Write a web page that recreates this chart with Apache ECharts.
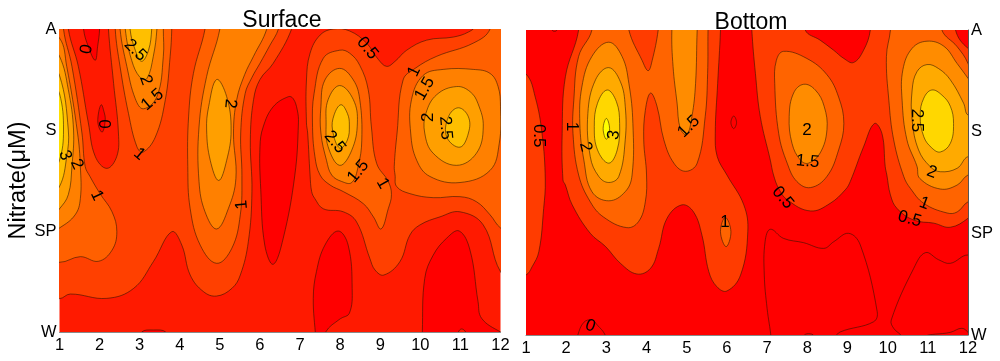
<!DOCTYPE html>
<html>
<head>
<meta charset="utf-8">
<style>
  html, body { margin: 0; padding: 0; background: #fff; }
  #main { width: 1000px; height: 361px; }
</style>
<script src="https://cdn.jsdelivr.net/npm/echarts@6/dist/echarts.min.js"></script>
</head>
<body>
<div id="main"></div>
<script>
const monthTicks = [1, 2, 3, 4, 5, 6, 7, 8, 9, 10, 11, 12];
const seasonTicks = ['W', 'SP', 'S', 'A'];

// each contour: [value of the band inside it, [[month, season position], ...]]
// season position runs W=0, SP=1, S=2, A=3; points past the axes get clipped
const surfaceContours = [
  [0.5, [[0.6,0.36],[1,0.33],[1.27,0.376],[2.18,0.333],[2.85,0.432],[3.34,0.696],[3.8,0.993],[4.05,0.861],[4.26,0.564],[4.59,0.4],[4.92,0.356],[5.3,0.432],[5.51,0.564],[5.71,0.894],[5.8,1.39],[5.76,1.9],[5.84,2.3],[6,2.5],[6.33,2.66],[6.79,3],[6.95,3.3],[0.6,3.3]]],
  [0.5, [[7.16,2.495],[7.25,2.76],[7.5,2.94],[7.83,3],[8.24,2.98],[8.66,2.86],[8.95,2.7],[9.16,2.63],[9.37,2.68],[9.66,2.79],[10.16,2.89],[10.82,2.92],[11.2,2.97],[11.4,3.04],[11.6,3.3],[12.4,3.3],[12.4,0.5],[12,0.597],[11.57,1.06],[10.99,1.19],[10.49,1.14],[9.99,1.06],[9.74,0.96],[9.49,0.696],[9.09,0.564],[8.87,0.614],[8.74,0.73],[8.41,1.09],[8.08,1.19],[7.58,1.22],[7.37,1.32],[7.29,1.39],[7.25,1.554],[7.19,1.97],[7.16,2.07]]],
  [0, [[1.2,3.3],[1.22,3],[1.47,2.63],[1.72,2.07],[1.89,1.74],[2.18,1.62],[2.43,1.74],[2.47,1.97],[2.35,2.46],[2.22,3],[2.2,3.3]]],
  [-0.5, [[1.58,3.3],[1.6,3],[1.72,2.825],[1.89,2.69],[1.95,2.825],[2,3],[2,3.3]]],
  [-0.5, [[2.04,2.25],[1.96,2.13],[1.98,2.03],[2.07,1.98],[2.14,2.1],[2.11,2.18]]],
  [-0.5, [[6.71,2.33],[6.33,2.23],[6.08,2.03],[6,1.835],[6.02,1.41],[6.12,0.861],[6.33,0.67],[6.58,0.927],[6.87,1.554],[6.96,2.07],[6.93,2.2],[6.83,2.31]]],
  [-0.5, [[7.95,1],[7.62,0.86],[7.41,0.6],[7.33,0.333],[7.39,-0.06],[7.4,-0.15],[7.6,-0.15],[7.64,0],[8,0.13],[8.23,0.185],[8.3,0.43],[8.2,0.86]]],
  [-0.5, [[10.97,1],[10.66,0.93],[10.32,0.76],[10.11,0.53],[10.05,0],[10.05,-0.2],[12.4,-0.2],[12.3,-0.05],[12,0],[11.53,0.135],[11.44,0.3],[11.24,0.81]]],
  [-0.5, [[3,-0.1],[3.05,0],[3.34,0.02],[3.65,0],[3.7,-0.1]]],
  [0, [[10.9,-0.1],[10.95,0],[11.03,0.03],[11.13,0],[11.2,-0.1]]],
  [1, [[1.1,3.3],[1.1,3],[1.31,2.63],[1.56,1.97],[1.64,1.64],[1.76,1.54],[2.01,1.37],[2.31,1.19],[2.43,0.993],[2.31,0.81],[1.97,0.7],[1.52,0.746],[1,0.69],[0.6,0.75],[0.6,3.3]]],
  [1, [[2.4,3.3],[2.39,3],[2.51,2.63],[2.72,2.165],[2.93,1.835],[3.08,1.78],[3.39,1.93],[3.64,2.3],[3.76,2.73],[3.8,3],[3.8,3.3]]],
  [1, [[4.63,3],[4.34,2.56],[4.22,2.13],[4.2,1.64],[4.26,1.22],[4.51,0.86],[4.92,0.68],[5.3,0.83],[5.51,1.16],[5.55,1.55],[5.52,1.97],[5.63,2.36],[5.8,2.52],[6,2.66],[6.25,2.84],[6.46,3],[6.6,3.3],[4.7,3.3]]],
  [1, [[7.99,2.79],[7.58,2.71],[7.35,2.36],[7.31,2.07],[7.37,1.74],[7.5,1.554],[7.75,1.455],[8.08,1.39],[8.58,1.27],[8.83,1.14],[9.02,1.02],[9.2,1.22],[9.28,1.36],[9.2,1.49],[8.91,1.67],[8.78,2.03],[8.7,2.4],[8.49,2.64],[8.24,2.76]]],
  [1, [[9.37,1.554],[9.41,1.44],[9.74,1.37],[10.32,1.33],[10.99,1.34],[11.4,1.29],[11.74,1.16],[12,1.03],[12.4,0.95],[12.4,3.3],[11.8,3.3],[11.74,3],[11.32,2.86],[10.41,2.73],[9.87,2.61],[9.57,2.495],[9.42,1.97],[9.35,1.64]]],
  [1.5, [[1,2.91],[1.18,2.63],[1.45,1.97],[1.52,1.64],[1.52,1.32],[1.39,1.16],[1,1.03],[0.6,0.95],[0.6,2.95]]],
  [1.5, [[2.5,3.3],[2.51,3],[2.68,2.63],[2.89,2.31],[3.09,2.21],[3.43,2.33],[3.59,2.73],[3.59,3],[3.6,3.3]]],
  [1.5, [[5,3],[4.67,2.53],[4.48,2.03],[4.48,1.49],[4.63,1.19],[4.92,1.02],[5.21,1.22],[5.4,1.52],[5.34,1.97],[5.42,2.3],[5.62,2.55],[5.84,2.73],[6.17,3],[6.3,3.3],[5.05,3.3]]],
  [1.5, [[7.99,2.61],[7.62,2.495],[7.52,2.23],[7.52,1.97],[7.66,1.7],[7.79,1.554],[8.04,1.49],[8.29,1.48],[8.45,1.64],[8.54,1.9],[8.49,2.3],[8.33,2.495]]],
  [1.5, [[10.57,2.6],[10.07,2.54],[9.78,2.3],[9.76,1.97],[9.91,1.7],[10.24,1.54],[10.99,1.48],[11.74,1.6],[11.97,1.87],[12,2.23],[11.94,2.43],[11.74,2.56],[11.32,2.6]]],
  [2, [[1,2.73],[1.22,2.4],[1.35,2],[1.31,1.64],[1.22,1.36],[1,1.22],[0.7,1.1],[0.7,2.85]]],
  [2, [[2.62,3.3],[2.64,3],[2.8,2.69],[3.01,2.52],[3.18,2.51],[3.34,2.73],[3.43,3],[3.45,3.3]]],
  [2, [[4.92,2.5],[4.72,2.23],[4.67,2],[4.76,1.7],[4.97,1.5],[5.17,1.7],[5.28,2],[5.17,2.33]]],
  [2, [[7.99,2.44],[7.7,2.3],[7.65,2.07],[7.7,1.835],[7.99,1.65],[8.29,1.8],[8.43,2.07],[8.33,2.3]]],
  [2, [[10.9,2.43],[10.41,2.35],[10.14,2.165],[10.11,1.97],[10.32,1.77],[10.9,1.65],[11.4,1.77],[11.57,2.03],[11.44,2.26],[11.24,2.38]]],
  [2.5, [[1,2.54],[1.22,2],[1.18,1.736],[1,1.44],[0.7,1.35],[0.7,2.65]]],
  [2.5, [[2.74,3.3],[2.76,3],[2.89,2.79],[3.05,2.68],[3.22,2.79],[3.3,3],[3.32,3.3]]],
  [2.5, [[8.02,2.25],[7.85,2.15],[7.81,2],[7.99,1.82],[8.18,1.9],[8.23,2.05],[8.18,2.165]]],
  [2.5, [[10.95,2.22],[10.7,2.13],[10.66,1.93],[10.99,1.83],[11.2,1.97],[11.2,2.13]]],
  [3, [[1,2.36],[1.1,2],[1,1.7],[0.8,1.6],[0.8,2.45]]]
];

const bottomContours = [
  [0.5, [[1,2.567],[1.23,2.34],[1.4,1.98],[1.48,1.525],[1.44,1.246],[1.32,0.82],[1.15,0.67],[1,0.59],[0.6,0.55],[0.6,2.6]]],
  [0.5, [[2.3,3.3],[2.31,3],[1.98,2.54],[1.9,1.98],[1.92,1.525],[1.98,1.475],[2.15,1.28],[2.6,1],[2.98,0.87],[3.35,0.705],[3.76,0.6],[4.1,0.656],[4.3,0.85],[4.51,1.148],[4.88,1.28],[5.17,1.21],[5.38,0.98],[5.55,0.623],[5.75,0.475],[6,0.433],[6.34,0.59],[6.52,1.016],[6.42,1.28],[6,1.574],[5.76,1.754],[5.71,1.98],[5.77,2.475],[5.84,3],[5.85,3.3]]],
  [0.5, [[6.6,3.3],[6.62,3],[6.71,2.57],[6.83,2.15],[7.08,1.72],[7.16,1.574],[7.29,1.44],[7.5,1.33],[8.08,1.22],[8.57,1.295],[8.95,1.43],[9.07,1.51],[9.4,1.85],[9.67,2.08],[9.86,1.98],[9.94,1.656],[9.98,1.574],[10.07,1.377],[10.23,1.246],[10.65,1.13],[11.15,1.1],[11.56,1.06],[12,1.148],[12.4,1.3],[12.4,3.3],[9.6,3.3],[9.57,3],[9.4,2.8],[9.15,2.68],[8.91,2.72],[8.66,2.8],[8.32,2.9],[7.95,3],[7.9,3.3]]],
  [0, [[11.69,3],[12,2.82],[12.3,2.8],[12.3,3.3],[11.7,3.3]]],
  [0, [[6.17,2.154],[6.1,2.09],[6.17,2.03],[6.24,2.09]]],
  [0, [[7.08,1.04],[6.95,0.918],[6.93,0.59],[7,0.262],[7.1,-0.03],[7.1,-0.15],[8.7,-0.15],[8.7,-0.03],[8.82,0.03],[9.65,0.13],[9.74,0.23],[9.32,0.885],[9.03,1],[8.66,0.918],[8.41,0.852],[7.91,0.908],[7.41,0.95]]],
  [0, [[10.94,0.81],[10.65,0.656],[10.09,0.148],[10.15,0.066],[10.36,-0.02],[10.4,-0.15],[12.4,-0.15],[12.4,0.7],[12,0.787],[11.56,0.705],[11.27,0.74]]],
  [0, [[10.86,-0.02],[11.56,0.026],[11.85,0.066],[12.02,0.016],[12.2,-0.1],[10.8,-0.1]]],
  [0, [[7.91,-0.01],[8.03,0.013],[8.17,-0.01],[8.17,-0.1],[7.91,-0.1]]],
  [0, [[2.25,-0.1],[2.29,0],[2.44,0.125],[2.64,0.148],[2.77,0.1],[2.97,0],[3,-0.1]]],
  [0, [[1.6,3.1],[1.65,3],[1.71,2.987],[1.77,3],[1.82,3.1]]],
  [1, [[2.65,3.3],[2.64,3],[2.31,2.74],[2.19,2.31],[2.17,1.98],[2.31,1.574],[2.6,1.31],[2.93,1.16],[3.51,1.056],[3.8,1.115],[3.97,1.31],[4,1.574],[3.93,1.92],[3.97,2.21],[4.1,2.38],[4.26,2.25],[4.43,1.92],[4.68,1.69],[4.97,1.61],[5.26,1.69],[5.46,2.15],[5.52,2.57],[5.53,3],[5.55,3.3],[4.35,3.3],[4.29,3],[4.14,2.7],[4.04,2.6],[3.89,2.7],[3.56,3],[3.5,3.3]]],
  [1, [[5.96,1.157],[5.84,1.016],[5.98,0.869],[6.1,1.016]]],
  [1, [[7.41,2.79],[7.23,2.7],[7.19,2.475],[7.29,1.98],[7.5,1.69],[7.74,1.51],[8.08,1.45],[8.49,1.56],[8.78,1.82],[8.91,2.08],[8.78,2.34],[8.49,2.56],[7.99,2.72]]],
  [1, [[10.1,3.3],[10.07,3],[9.97,2.74],[10.03,2.31],[10.15,1.92],[10.4,1.56],[10.57,1.44],[10.9,1.295],[11.48,1.2],[11.73,1.21],[12,1.31],[12.4,1.35],[12.4,2.2],[12,2.67],[11.73,2.836],[11.35,3],[11.3,3.3]]],
  [1.5, [[3.06,2.88],[2.64,2.74],[2.39,2.44],[2.34,2.08],[2.44,1.72],[2.64,1.41],[3.06,1.32],[3.47,1.41],[3.64,1.574],[3.66,2.08],[3.56,2.475],[3.39,2.74]]],
  [1.5, [[4.7,3.3],[4.63,3],[4.66,2.64],[4.76,2.28],[4.84,2.03],[5,1.97],[5.13,2.15],[5.22,2.475],[5.26,3],[5.3,3.3]]],
  [1.5, [[7.91,2.466],[7.66,2.38],[7.55,2.15],[7.62,1.885],[7.83,1.72],[8.03,1.69],[8.32,1.79],[8.49,2.02],[8.42,2.25],[8.2,2.41]]],
  [1.5, [[10.98,2.89],[10.61,2.82],[10.38,2.61],[10.36,2.31],[10.48,1.92],[10.73,1.66],[10.8,1.54],[11.31,1.436],[11.73,1.475],[12,1.574],[12.4,1.6],[12.4,2.3],[12,2.525],[11.73,2.67],[11.4,2.84]]],
  [2, [[3.06,2.63],[2.73,2.51],[2.54,2.18],[2.6,1.754],[2.81,1.56],[3.06,1.5],[3.31,1.56],[3.47,1.92],[3.47,2.25],[3.35,2.49]]],
  [2, [[10.98,2.66],[10.73,2.59],[10.61,2.41],[10.61,2.115],[10.77,1.82],[11.06,1.656],[11.31,1.606],[11.73,1.64],[12,1.754],[12.3,1.7],[12.3,2.2],[12,2.164],[11.89,2.28],[11.56,2.51],[11.27,2.62]]],
  [2.5, [[3.02,2.41],[2.78,2.28],[2.7,2.05],[2.78,1.82],[3.06,1.69],[3.27,1.82],[3.33,2.08],[3.25,2.295]]],
  [2.5, [[11.1,2.41],[10.9,2.33],[10.81,2.16],[10.9,1.95],[11.1,1.84],[11.31,1.8],[11.56,1.885],[11.64,2.08],[11.56,2.25],[11.35,2.36]]],
  [3, [[3,2.13],[2.92,2.03],[3,1.925],[3.08,2.03]]]
];

// contour labels: [month, season position, text, angle]
const surfaceLabels = [
  [1.68,2.8,'0',80],[2.89,2.79,'2.5',-45],[3.15,2.495,'2',-70],[3.32,2.3,'1.5',40],[2.99,1.76,'1',-40],
  [5.26,2.26,'2',-95],[1.14,1.75,'3',-70],[1.43,1.66,'2',-65],[2.18,2.06,'0',90],[1.93,1.35,'1',-65],
  [5.55,1.26,'1',95],[8.68,2.81,'0.5',-50],[9.85,2.58,'1',65],[10.11,2.41,'1.5',60],[10.2,2.125,'2',90],
  [10.63,2.02,'2.5',-85],[7.87,1.88,'2.5',-50],[8.45,1.59,'1.5',50],[9.06,1.47,'1',-60]
];
const bottomLabels = [
  [1.32,1.96,'0.5',-90],[2.145,2.05,'1',-90],[2.48,1.85,'2',-75],[3.19,1.967,'3',80],[5.05,2.05,'1.5',45],
  [5.95,1.105,'1',0],[2.6,0.09,'0',-20],[7.99,2.01,'2',0],[8.01,1.705,'1.5',-5],[7.39,1.35,'0.5',-50],
  [10.55,1.14,'0.5',-15],[10.91,1.295,'1',-20],[11.1,1.6,'2',-20],[10.73,2.11,'2.5',-90]
];

const surfaceColors = { '-0.5': '#ff0000', 0: '#ff1a00', 0.5: '#ff4000', 1: '#ff6000', 1.5: '#ff8000', 2: '#ff9f00', 2.5: '#ffbf00', 3: '#ffdf00' };
const bottomColors = { 0: '#ff0000', 0.5: '#ff3c00', 1: '#ff6400', 1.5: '#ff8c00', 2: '#ffaa00', 2.5: '#ffd700', 3: '#ffff00' };

const fontName = '"Liberation Sans", Arial, sans-serif';

function contourSeries(contours, colors, axisIndex) {
  return {
    type: 'custom',
    xAxisIndex: axisIndex,
    yAxisIndex: axisIndex,
    clip: true,
    silent: true,
    animation: false,
    data: contours.map(function (c, i) { return [1, 0, i]; }),
    renderItem: function (params, api) {
      const c = contours[params.dataIndex];
      return {
        type: 'polygon',
        shape: {
          points: c[1].map(function (p) { return api.coord(p); }),
          smooth: 0.4
        },
        style: { fill: colors[c[0]], stroke: 'rgba(40,20,0,0.8)', lineWidth: 0.7 }
      };
    }
  };
}

function labelSeries(labels, axisIndex) {
  return {
    type: 'custom',
    xAxisIndex: axisIndex,
    yAxisIndex: axisIndex,
    silent: true,
    animation: false,
    z: 5,
    data: labels.map(function (l, i) { return [1, 0, i]; }),
    renderItem: function (params, api) {
      const l = labels[params.dataIndex];
      const pos = api.coord([l[0], l[1]]);
      return {
        type: 'text',
        x: pos[0],
        y: pos[1],
        rotation: l[3] * Math.PI / 180,
        style: {
          text: l[2],
          fontSize: 17,
          fontFamily: fontName,
          fill: '#000',
          align: 'center',
          verticalAlign: 'middle'
        }
      };
    }
  };
}

function xAxis(gridIndex, labelMargin) {
  return {
    type: 'value', gridIndex: gridIndex, min: 1, max: 12, interval: 1,
    axisTick: { show: false }, splitLine: { show: false },
    axisLine: { show: true, lineStyle: { color: '#8a8a8a', width: 1 } },
    axisLabel: {
      margin: labelMargin, color: '#000', fontSize: 16.5, fontFamily: fontName,
      showMinLabel: true, showMaxLabel: true, hideOverlap: false,
      formatter: function (v) { return monthTicks[v - 1]; }
    }
  };
}

function yAxis(gridIndex, position, extra) {
  return Object.assign({
    type: 'value', gridIndex: gridIndex, position: position, min: 0, max: 3, interval: 1,
    axisTick: { show: false }, splitLine: { show: false },
    axisLabel: {
      margin: 3, color: '#000', fontSize: 16.5, fontFamily: fontName,
      showMinLabel: true, showMaxLabel: true, hideOverlap: false,
      formatter: function (v) { return seasonTicks[v]; }
    }
  }, extra);
}

const chart = echarts.init(document.getElementById('main'), null, { renderer: 'canvas' });
chart.setOption({
  backgroundColor: '#fff',
  animation: false,
  title: [
    { text: 'Surface', left: 277, top: 4, textAlign: 'center', textStyle: { color: '#000', fontWeight: 'normal', fontSize: 23, fontFamily: fontName } },
    { text: 'Bottom', left: 746, top: 6, textAlign: 'center', textStyle: { color: '#000', fontWeight: 'normal', fontSize: 23, fontFamily: fontName } }
  ],
  grid: [
    { left: 59.5, top: 29, width: 441, height: 303, backgroundColor: surfaceColors[0], show: true, borderWidth: 0 },
    { left: 526, top: 30, width: 442, height: 305, backgroundColor: bottomColors[0], show: true, borderWidth: 0 }
  ],
  xAxis: [xAxis(0, 5), xAxis(1, 5)],
  yAxis: [
    yAxis(0, 'left', {
      axisLine: { show: false },
      name: 'Nitrate(μM)', nameLocation: 'middle', nameRotate: 90, nameGap: 29,
      nameTextStyle: { color: '#000', fontSize: 23.5, fontFamily: fontName }
    }),
    yAxis(1, 'right', { axisLine: { show: true, lineStyle: { color: '#555', width: 1 } } })
  ],
  series: [
    contourSeries(surfaceContours, surfaceColors, 0),
    contourSeries(bottomContours, bottomColors, 1),
    labelSeries(surfaceLabels, 0),
    labelSeries(bottomLabels, 1)
  ]
});
</script>
</body>
</html>
